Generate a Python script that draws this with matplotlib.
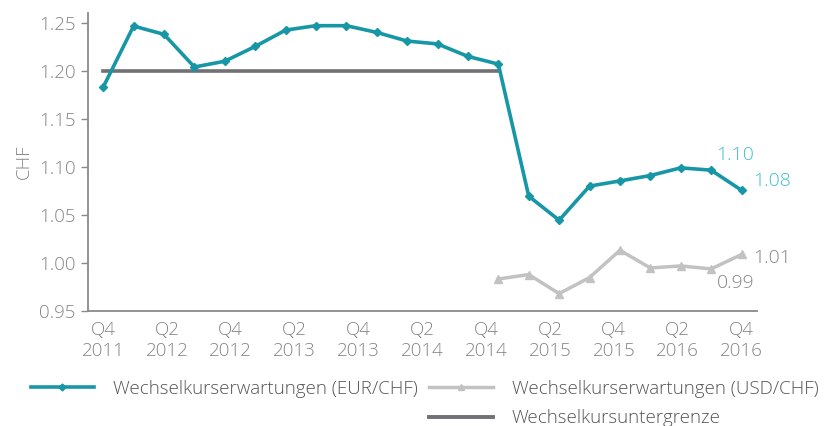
import matplotlib
matplotlib.use("Agg")
import matplotlib.pyplot as plt
from matplotlib.lines import Line2D
import numpy as np

# Daten
eur_chf = [1.183, 1.2466, 1.238, 1.204, 1.210, 1.2254, 1.2424, 1.247, 1.247, 1.240, 1.231,
           1.228, 1.215, 1.207, 1.0695, 1.0445, 1.080, 1.0854, 1.091, 1.099, 1.0966, 1.0757]
usd_chf = [None] * 13 + [0.9833, 0.9879, 0.9681, 0.9848, 1.0132, 0.9948, 0.9969, 0.9938, 1.0088]
untergrenze = [1.20] * 14
tick_labels = ["Q4\n2011", "Q2\n2012", "Q4\n2012", "Q2\n2013", "Q4\n2013", "Q2\n2014",
               "Q4\n2014", "Q2\n2015", "Q4\n2015", "Q2\n2016", "Q4\n2016"]
y_ticks = [0.95, 1.00, 1.05, 1.10, 1.15, 1.20, 1.25]

teal = "#1797a6"
teal_light = "#3fbfce"
grey_line = "#c2c2c2"
dark_grey = "#707174"
text_grey = "#858585"

plt.rcParams['font.family'] = ['Open Sans', 'DejaVu Sans']

fig = plt.figure(figsize=(8.38, 4.26), dpi=100)
ax = fig.add_axes([0.105, 0.270, 0.798, 0.699])

x = np.arange(len(eur_chf))
usd = np.array([np.nan if v is None else v for v in usd_chf])

ax.plot(np.arange(len(untergrenze)), untergrenze, color=dark_grey, lw=2.6, zorder=2)
ax.plot(x, usd, color=grey_line, lw=2.5, marker="^", ms=6, zorder=3)
ax.plot(x, eur_chf, color=teal, lw=2.6, marker="D", ms=4.5, zorder=4)

ax.set_xlim(-0.5, 21.5)
ax.set_ylim(0.95, 1.26)
ax.set_yticks(y_ticks)
ax.set_yticklabels([f"{v:.2f}" for v in y_ticks])
ax.set_xticks(np.linspace(0, 21, len(tick_labels)))
ax.set_xticklabels(tick_labels, linespacing=1.2)

for s in ["top", "right"]:
    ax.spines[s].set_visible(False)
for s in ["left", "bottom"]:
    ax.spines[s].set_color("#8a8a8a")
    ax.spines[s].set_linewidth(1.3)

ax.tick_params(axis="y", length=5, width=1, color="#8a8a8a", labelsize=13.5,
               labelcolor=text_grey, pad=4)
ax.tick_params(axis="x", length=0, labelsize=13.5, labelcolor=text_grey, pad=7)
for lab in ax.get_xticklabels() + ax.get_yticklabels():
    lab.set_fontweight("light")

ax.set_ylabel("CHF", color=text_grey, fontsize=13.5, fontweight="light", labelpad=4)

# Endwerte beschriften
ax.text(20.8, 1.1125, "1.10", color=teal_light, fontsize=14, fontweight="light", ha="center", va="center")
ax.text(22.0, 1.0855, "1.08", color=teal_light, fontsize=14, fontweight="light", ha="center", va="center")
ax.text(22.0, 1.0055, "1.01", color=text_grey, fontsize=14, fontweight="light", ha="center", va="center")
ax.text(20.8, 0.9795, "0.99", color=text_grey, fontsize=14, fontweight="light", ha="center", va="center")

# Legende
h_eur = Line2D([], [], color=teal, lw=2.6, marker="D", ms=3.5)
h_usd = Line2D([], [], color=grey_line, lw=2.5, marker="^", ms=4.5)
h_floor = Line2D([], [], color=dark_grey, lw=2.8)
h_blank = Line2D([], [], color="none")
leg = fig.legend([h_eur, h_blank, h_usd, h_floor],
                 ["Wechselkurserwartungen (EUR/CHF)", "", "Wechselkurserwartungen (USD/CHF)",
                  "Wechselkursuntergrenze"],
                 ncol=2, loc="lower left", bbox_to_anchor=(0.032, -0.012), frameon=False,
                 borderpad=0, borderaxespad=0.2,
                 handlelength=3.4, handletextpad=1.0, columnspacing=0.6,
                 labelspacing=0.62, prop={"size": 13.5, "weight": "light"})
for t in leg.get_texts():
    t.set_color("#555555")

fig.savefig("out.png", dpi=100)
